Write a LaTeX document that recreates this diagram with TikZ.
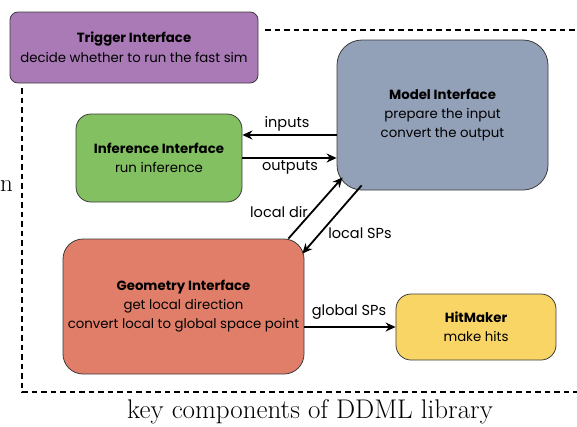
\documentclass[tikz,border=0pt]{standalone}
\usepackage{fontspec}
\newfontfamily\pop{Poppins}
\usetikzlibrary{arrows.meta,calc}
\definecolor{cTrig}{RGB}{169,122,182}
\definecolor{cInf}{RGB}{130,192,98}
\definecolor{cMod}{RGB}{146,160,184}
\definecolor{cGeo}{RGB}{224,126,106}
\definecolor{cHit}{RGB}{249,213,101}
\definecolor{cEdge}{RGB}{60,60,60}
\tikzset{
  box/.style={draw=cEdge, line width=0.8pt, align=center, inner sep=0pt,
    font=\pop\fontsize{13.3}{19}\selectfont},
  arr/.style={line width=1.8pt, -{Stealth[length=10pt,width=9pt]}},
  lbl/.style={font=\pop\fontsize{14.5}{16}\selectfont, inner sep=0pt},
  border/.style={line width=2.3pt, dash pattern=on 5.5pt off 4pt}
}
\begin{document}
\begin{tikzpicture}[x=1pt,y=-1pt]
\useasboundingbox (0,0) rectangle (577,426);
\clip (0,0) rectangle (577,426);
\draw[border] (22,88) -- (22,392) -- (580,392);
\draw[border] (265,30) -- (580,30);
\node[box, fill=cTrig, rounded corners=8pt, minimum width=248pt, minimum height=71pt] (trig) at (134,47.5)
  {\textbf{Trigger Interface}\\[1pt]decide whether to run the fast sim};
\node[box, fill=cInf, rounded corners=15pt, minimum width=166pt, minimum height=88pt] (inf) at (159,158)
  {\textbf{Inference Interface}\\run inference};
\node[box, fill=cMod, rounded corners=25pt, minimum width=211pt, minimum height=150pt] (mod) at (442.5,115)
  {\textbf{Model Interface}\\prepare the input\\convert the output};
\node[box, fill=cGeo, rounded corners=20pt, minimum width=241pt, minimum height=135pt] (geo) at (183.5,306.5)
  {\textbf{Geometry Interface}\\get local direction\\convert local to global space point};
\node[box, fill=cHit, rounded corners=15pt, minimum width=160pt, minimum height=66pt] (hit) at (476,327)
  {\textbf{HitMaker}\\make hits};
\coordinate (inIn) at ($(inf.east)+(0,-23)$);
\draw[arr] (inIn -| mod.west) -- (inIn);
\draw[arr] (inf.east) -- (inf.east -| mod.west);
\draw[arr] ($(geo.north east)+(-16,0)$) -- ($(mod.south west)+(6,-13)$);
\draw[arr] ($(mod.south west)+(25,-5)$) -- ($(geo.north east)+(-2,15)$);
\draw[arr] (geo.east |- hit.west) -- (hit.west);
\node[lbl] (linp) at (287,124) {inputs};
\node[lbl] (lout) at (290,167) {outputs};
\node[lbl] (ldir) at (279,212) {local dir};
\node[lbl] (lsps) at (360,233) {local SPs};
\node[lbl] (lgsp) at (349,312) {global SPs};
\node[font=\fontsize{25}{28}\selectfont, anchor=east, inner sep=0pt] (frag) at (13,186) {n};
\node[font=\fontsize{27}{30}\selectfont, inner sep=0pt] (cap) at (310,412) {key components of DDML library};
\end{tikzpicture}
\end{document}
